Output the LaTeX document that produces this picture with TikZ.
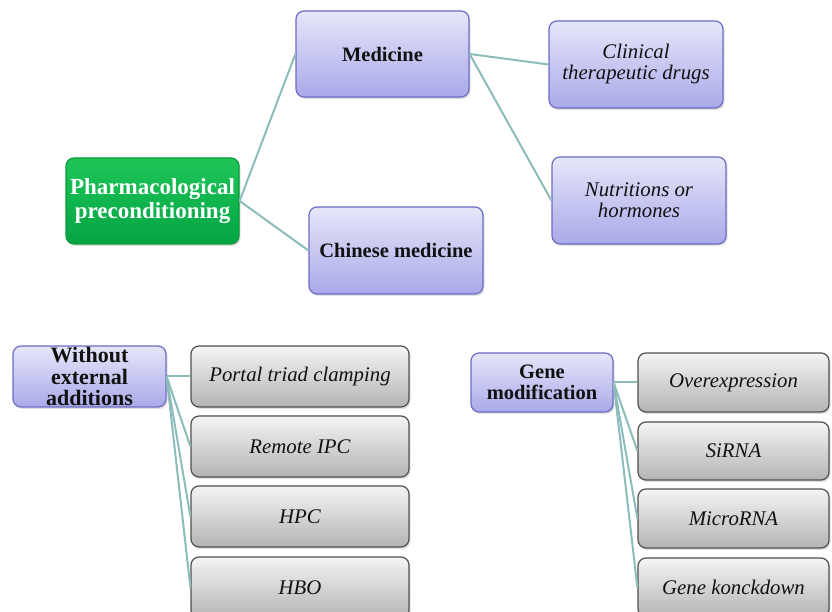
\documentclass[tikz,border=0pt]{standalone}
\usepackage{fontspec}
\setmainfont{Liberation Serif}
\usetikzlibrary{shadows}
\definecolor{lavtop}{HTML}{E6E6F9}
\definecolor{lavbot}{HTML}{A9A9EA}
\definecolor{lavline}{HTML}{6C6CC4}
\definecolor{grntop}{HTML}{1EC658}
\definecolor{grnbot}{HTML}{04A444}
\definecolor{grnline}{HTML}{0C9A3C}
\definecolor{gtop}{HTML}{F4F4F4}
\definecolor{gbot}{HTML}{B4B4B4}
\definecolor{gline}{HTML}{505050}
\definecolor{conn}{HTML}{8CBDBA}
\definecolor{txt}{HTML}{111111}
\tikzset{
  basebox/.style={rectangle, rounded corners=8pt, line width=1.2pt, inner sep=0pt, align=center,
    drop shadow={opacity=0.25, shadow xshift=1.5pt, shadow yshift=-2pt}},
  lavbox/.style={basebox, draw=lavline, top color=lavtop, bottom color=lavbot, text=txt},
  grnbox/.style={basebox, draw=grnline, top color=grntop, bottom color=grnbot, text=white},
  graybox/.style={basebox, draw=gline, top color=gtop, bottom color=gbot, text=txt,
    minimum height=61pt, font=\fontsize{20.8}{21}\selectfont\itshape},
  bigbold/.style={font=\fontsize{20.5}{21}\selectfont\bfseries},
  lavit/.style={font=\fontsize{20.8}{21}\selectfont\itshape},
  link/.style={draw=conn, line width=2pt}
}
\begin{document}
\begin{tikzpicture}[x=1pt,y=1pt]
\useasboundingbox (0,0) rectangle (832,612);
\clip (0,0) rectangle (832,612);
\fill[white] (0,0) rectangle (832,612);
% top tree
\node[grnbox, minimum width=173pt, minimum height=86pt, font=\fontsize{23}{24.5}\selectfont\bfseries]
  (pharm) at (152.5,411) {Pharmacological\\preconditioning};
\node[lavbox, bigbold, minimum width=173pt, minimum height=86pt] (med) at (382.5,558) {Medicine};
\node[lavbox, bigbold, minimum width=174pt, minimum height=87pt] (chin) at (396,361.5) {Chinese medicine};
\node[lavbox, lavit, minimum width=174pt, minimum height=87pt] (clin) at (636,547.5) {Clinical\\therapeutic drugs};
\node[lavbox, lavit, minimum width=174pt, minimum height=87pt] (nutr) at (639,411.5) {Nutritions or\\hormones};
% bottom left
\node[lavbox, minimum width=153pt, minimum height=61pt, font=\fontsize{22}{21.5}\selectfont\bfseries]
  (wo) at (89.5,235.5) {Without\\external\\additions};
\node[graybox, minimum width=218pt] (ptc) at (300,235.5) {Portal triad clamping};
\node[graybox, minimum width=218pt] (ripc) at (300,165.5) {Remote IPC};
\node[graybox, minimum width=218pt] (hpc) at (300,95.5) {HPC};
\node[graybox, minimum width=218pt] (hbo) at (300,24.5) {HBO};
% bottom right
\node[lavbox, minimum width=142pt, minimum height=59pt, font=\fontsize{20.5}{20.5}\selectfont\bfseries]
  (gene) at (542,229.5) {Gene\\modification};
\node[graybox, minimum width=191pt, minimum height=59pt] (ovr) at (733.5,229.5) {Overexpression};
\node[graybox, minimum width=191pt, minimum height=58pt] (sir) at (733.5,161) {SiRNA};
\node[graybox, minimum width=191pt, minimum height=59pt] (mir) at (733.5,93.5) {MicroRNA};
\node[graybox, minimum width=191pt, minimum height=59pt] (gkd) at (733.5,24.5) {Gene konckdown};
% connectors
\draw[link] (pharm.east) -- (med.west);
\draw[link] (pharm.east) -- (chin.west);
\draw[link] (med.east) -- (clin.west);
\draw[link] (med.east) -- (nutr.west);
\draw[link] (wo.east) -- (ptc.west);
\draw[link] (wo.east) -- (ripc.west);
\draw[link] (wo.east) -- (hpc.west);
\draw[link] (wo.east) -- (hbo.west);
\draw[link] (gene.east) -- (ovr.west);
\draw[link] (gene.east) -- (sir.west);
\draw[link] (gene.east) -- (mir.west);
\draw[link] (gene.east) -- (gkd.west);
\end{tikzpicture}
\end{document}
